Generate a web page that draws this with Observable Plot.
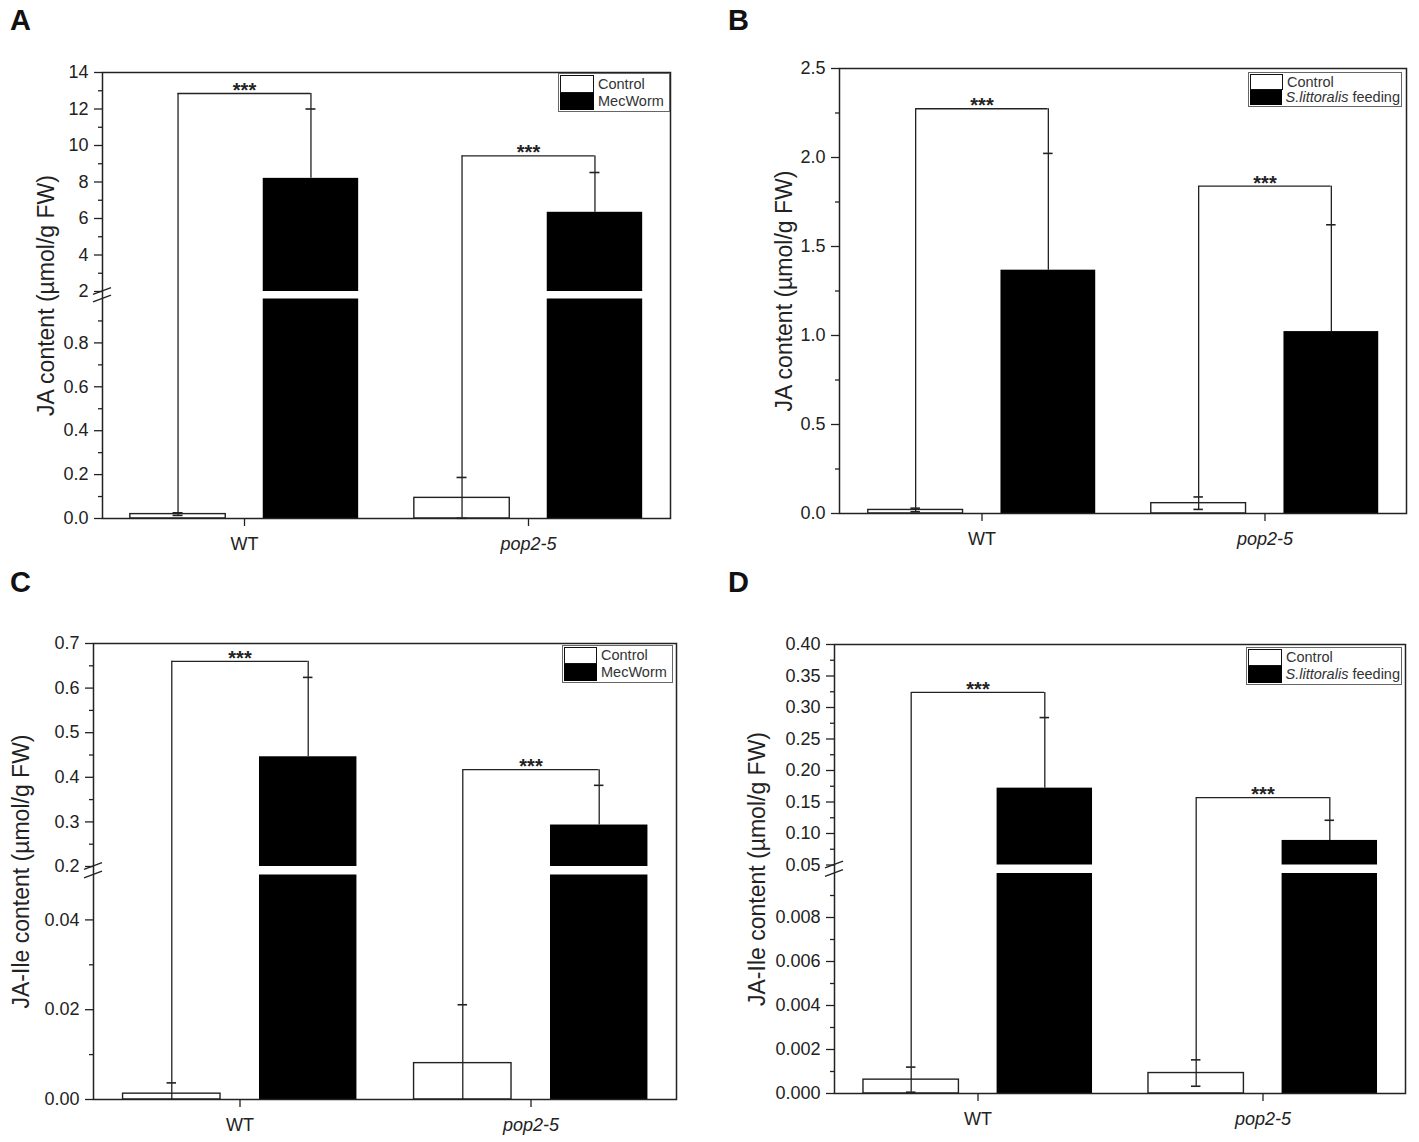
<!DOCTYPE html>
<html><head><meta charset="utf-8">
<script src="https://cdn.jsdelivr.net/npm/d3@7"></script>
<script src="https://cdn.jsdelivr.net/npm/@observablehq/plot@0.6"></script>
<style>
html,body{margin:0;padding:0;background:#fff;}
#page{position:relative;width:1419px;height:1142px;font-family:"Liberation Sans",Arial,sans-serif;color:#222;overflow:hidden}
#page svg{position:absolute}
.letter{position:absolute;font-weight:bold;font-size:29px;line-height:1;z-index:5;color:#111}
.legend{position:absolute;box-sizing:border-box;border:1px solid #666;background:#fff;display:flex;flex-direction:column;padding:1px 1px 1px 1px;z-index:5}
.legend .row{flex:1;display:flex;align-items:stretch;font-size:14.5px;line-height:1;color:#333}
.legend .sw{box-sizing:border-box;margin:0 4px 0 0}
.legend .lab{display:flex;align-items:center;white-space:pre}
</style></head>
<body><div id="page"></div>
<script>
// ---------- data ----------
const groups = ["WT", "pop2-5"];

// Panel A: JA content, MecWorm
const aControlMean = [0.02, 0.094];
const aControlSD = [0.006, 0.093];
const aTreatMean = [8.2, 6.34];
const aTreatSD = [3.8, 2.18];
const aBracket = [12.85, 9.43];
const aBreak = [1, 2];
const aMajor = [0, 0.2, 0.4, 0.6, 0.8, 2, 4, 6, 8, 10, 12, 14];
const aMinor = [0.1, 0.3, 0.5, 0.7, 0.9, 3, 5, 7, 9, 11, 13];

// Panel B: JA content, S. littoralis feeding
const bControlMean = [0.02, 0.058];
const bControlSD = [0.01, 0.035];
const bTreatMean = [1.367, 1.022];
const bTreatSD = [0.656, 0.6];
const bBracket = [2.274, 1.839];
const bMajor = [0, 0.5, 1.0, 1.5, 2.0, 2.5];
const bMinor = [0.25, 0.75, 1.25, 1.75, 2.25];

// Panel C: JA-Ile content, MecWorm
const cControlMean = [0.0013, 0.0081];
const cControlSD = [0.0024, 0.013];
const cTreatMean = [0.446, 0.293];
const cTreatSD = [0.178, 0.089];
const cBracket = [0.66, 0.417];
const cBreak = [0.05, 0.2];
const cMajor = [0, 0.02, 0.04, 0.2, 0.3, 0.4, 0.5, 0.6, 0.7];
const cMinor = [0.01, 0.03, 0.25, 0.35, 0.45, 0.55, 0.65];

// Panel D: JA-Ile content, S. littoralis feeding
const dControlMean = [0.00063, 0.00093];
const dControlSD = [0.00057, 0.0006];
const dTreatMean = [0.172, 0.089];
const dTreatSD = [0.112, 0.032];
const dBracket = [0.324, 0.157];
const dBreak = [0.01, 0.05];
const dMajor = [0, 0.002, 0.004, 0.006, 0.008, 0.05, 0.10, 0.15, 0.20, 0.25, 0.30, 0.35, 0.40];
const dMinor = [0.001, 0.003, 0.005, 0.007, 0.009, 0.075, 0.125, 0.175, 0.225, 0.275, 0.325, 0.375];

const legendMec = ["Control", "MecWorm"];
const legendFeed = ["Control", "S.littoralis| feeding"];
const titleJA = "JA content (µmol/g FW)";
const titleJAIle = "JA-Ile content (µmol/g FW)";

// ---------- panels ----------
const panels = [
  {letter: "A", left: 0, top: 0, width: 710, height: 570, ml: 102, mr: 40, mt: 72, mb: 52,
   cm: aControlMean, cs: aControlSD, tm: aTreatMean, ts: aTreatSD, br: aBracket,
   brk: aBreak, yDomain: [0, aBreak[0], aBreak[1], 14], yRange: [518, 298.5, 291, 72],
   major: aMajor, minor: aMinor, fmt: d => d >= aBreak[1] ? d.toFixed(0) : d.toFixed(1),
   title: titleJA, titleDx: -56, letterPos: [10, 5.5],
   legend: {left: 558, top: 73, width: 112, height: 39, sw: 34, items: legendMec}},
  {letter: "B", left: 710, top: 0, width: 709, height: 570, ml: 129, mr: 13, mt: 68, mb: 57,
   cm: bControlMean, cs: bControlSD, tm: bTreatMean, ts: bTreatSD, br: bBracket,
   brk: null, yDomain: [0, 2.5], yRange: [513, 68],
   major: bMajor, minor: bMinor, fmt: d => d.toFixed(1),
   title: titleJA, titleDx: -55, letterPos: [728, 5.5],
   legend: {left: 1248, top: 72, width: 154, height: 35, sw: 33, items: legendFeed}},
  {letter: "C", left: 0, top: 570, width: 710, height: 572, ml: 93, mr: 34, mt: 73, mb: 43,
   cm: cControlMean, cs: cControlSD, tm: cTreatMean, ts: cTreatSD, br: cBracket,
   brk: cBreak, yDomain: [0, cBreak[0], cBreak[1], 0.7], yRange: [529, 304.5, 296, 73],
   major: cMajor, minor: cMinor, fmt: d => d >= cBreak[1] ? d.toFixed(1) : d.toFixed(2),
   title: titleJAIle, titleDx: -72, letterPos: [10, 567.5],
   legend: {left: 562, top: 645, width: 111, height: 38, sw: 33, items: legendMec}},
  {letter: "D", left: 710, top: 570, width: 709, height: 572, ml: 124, mr: 14, mt: 74, mb: 49,
   cm: dControlMean, cs: dControlSD, tm: dTreatMean, ts: dTreatSD, br: dBracket,
   brk: dBreak, yDomain: [0, dBreak[0], dBreak[1], 0.40], yRange: [523, 303, 294.5, 74],
   major: dMajor, minor: dMinor, fmt: d => d >= dBreak[1] ? d.toFixed(2) : d.toFixed(3),
   title: titleJAIle, titleDx: -77, letterPos: [728, 567.5],
   legend: {left: 1246, top: 647, width: 156, height: 38, sw: 34, items: legendFeed}}
];

const page = document.getElementById("page");
const INK = "#222";

function breakMarker(lowTop, highBottom) {
  return (index, scales, values, dimensions) => {
    const y = scales.y;
    const x0 = dimensions.marginLeft;
    const g = d3.create("svg:g").attr("stroke", INK).attr("stroke-width", 1.4).attr("fill", "none");
    for (const v of [highBottom, lowTop]) {
      const yy = y(v);
      g.append("line").attr("x1", x0 - 9).attr("x2", x0 + 9).attr("y1", yy + 3.3).attr("y2", yy - 3.3);
    }
    return g.node();
  };
}

for (const p of panels) {
  const rows = groups.map((g, i) => ({group: g, cMean: p.cm[i], cSD: p.cs[i], tMean: p.tm[i], tSD: p.ts[i], bracket: p.br[i]}));
  const step = (p.width - p.ml - p.mr) / 2;
  const offC = -0.234 * step, offT = 0.234 * step, bw = 0.336 * step;
  const half = step / 2;
  const barC = {insetLeft: half + offC - bw / 2, insetRight: half - offC - bw / 2};
  const barT = {insetLeft: half + offT - bw / 2, insetRight: half - offT - bw / 2};
  const capW = 10;
  const capC = {insetLeft: half + offC - capW / 2, insetRight: half - offC - capW / 2};
  const capT = {insetLeft: half + offT - capW / 2, insetRight: half - offT - capW / 2};
  const line = {stroke: INK, strokeWidth: 1.3};

  const marks = [];
  // control bars
  marks.push(Plot.barY(rows, {x: "group", y1: 0, y2: "cMean", fill: "#fff", stroke: INK, strokeWidth: 1.4, ...barC}));
  // treatment bars (split at the axis break)
  if (p.brk) {
    const [lowTop, highBottom] = p.brk;
    marks.push(Plot.barY(rows, {x: "group", y1: 0, y2: d => Math.min(d.tMean, lowTop), fill: "#000", ...barT}));
    marks.push(Plot.barY(rows.filter(d => d.tMean > highBottom), {x: "group", y1: highBottom, y2: "tMean", fill: "#000", ...barT}));
  } else {
    marks.push(Plot.barY(rows, {x: "group", y1: 0, y2: "tMean", fill: "#000", ...barT}));
  }
  // error bars
  marks.push(Plot.ruleX(rows, {x: "group", y1: d => Math.max(0, d.cMean - d.cSD), y2: d => d.cMean + d.cSD, dx: offC, ...line}));
  marks.push(Plot.tickY(rows, {x: "group", y: d => d.cMean + d.cSD, ...capC, ...line, strokeWidth: 1.6}));
  marks.push(Plot.tickY(rows.filter(d => d.cMean - d.cSD > 0), {x: "group", y: d => d.cMean - d.cSD, ...capC, ...line, strokeWidth: 1.6}));
  marks.push(Plot.ruleX(rows, {x: "group", y1: "tMean", y2: d => d.tMean + d.tSD, dx: offT, ...line}));
  marks.push(Plot.tickY(rows, {x: "group", y: d => d.tMean + d.tSD, ...capT, ...line, strokeWidth: 1.6}));
  // significance brackets
  marks.push(Plot.ruleX(rows, {x: "group", y1: d => d.cMean + d.cSD, y2: "bracket", dx: offC, ...line}));
  marks.push(Plot.ruleX(rows, {x: "group", y1: d => d.tMean + d.tSD, y2: "bracket", dx: offT, ...line}));
  marks.push(Plot.tickY(rows, {x: "group", y: "bracket", insetLeft: half + offC, insetRight: half - offT, ...line}));
  marks.push(Plot.text(rows, {x: "group", y: "bracket", text: () => "***", dx: (offC + offT) / 2, dy: -3, fontSize: 20, fontWeight: "bold", fill: INK}));
  // axes
  marks.push(Plot.axisY({ticks: p.major, tickSize: 8, tickPadding: 6, tickFormat: p.fmt, label: null, strokeWidth: 1.3, fontSize: 18}));
  marks.push(Plot.axisY({ticks: p.minor, tickSize: 4, tickFormat: () => "", label: null, strokeWidth: 1.3}));
  marks.push(Plot.axisX({tickSize: 8, tickFormat: () => "", label: null, strokeWidth: 1.3}));
  marks.push(Plot.text(groups, {x: d => d, filter: d => d === "WT", frameAnchor: "bottom", lineAnchor: "top", dy: 19, fontSize: 18, fill: INK}));
  marks.push(Plot.text(groups, {x: d => d, filter: d => d !== "WT", frameAnchor: "bottom", lineAnchor: "top", dy: 19, fontSize: 18, fontStyle: "italic", fill: INK}));
  marks.push(Plot.text([p.title], {text: d => d, frameAnchor: "left", textAnchor: "middle", rotate: -90, dx: p.titleDx, fontSize: 23, fill: INK}));
  marks.push(Plot.frame({stroke: INK, strokeWidth: 1.5}));
  if (p.brk) marks.push(breakMarker(p.brk[0], p.brk[1]));

  const svg = Plot.plot({
    width: p.width, height: p.height,
    marginLeft: p.ml, marginRight: p.mr, marginTop: p.mt, marginBottom: p.mb,
    x: {type: "band", domain: groups, padding: 0},
    y: {type: "linear", domain: p.yDomain, range: p.yRange},
    style: {fontFamily: "'Liberation Sans', Arial, sans-serif", fontSize: "18px", color: INK, background: "transparent", overflow: "visible"},
    marks
  });
  svg.style.left = p.left + "px";
  svg.style.top = p.top + "px";
  page.appendChild(svg);

  // panel letter
  const L = document.createElement("div");
  L.className = "letter";
  L.textContent = p.letter;
  L.style.left = p.letterPos[0] + "px";
  L.style.top = p.letterPos[1] + "px";
  page.appendChild(L);

  // legend
  const lg = document.createElement("div");
  lg.className = "legend";
  Object.assign(lg.style, {left: p.legend.left + "px", top: p.legend.top + "px", width: p.legend.width + "px", height: p.legend.height + "px"});
  p.legend.items.forEach((label, i) => {
    const row = document.createElement("div");
    row.className = "row";
    const sw = document.createElement("div");
    sw.className = "sw";
    sw.style.width = p.legend.sw + "px";
    if (i === 0) { sw.style.background = "#fff"; sw.style.border = "1.5px solid #111"; }
    else { sw.style.background = "#000"; }
    row.appendChild(sw);
    const lab = document.createElement("div");
    lab.className = "lab";
    if (label.includes("|")) {
      const [it, rest] = label.split("|");
      const em = document.createElement("i");
      em.textContent = it;
      const tail = document.createElement("span");
      tail.textContent = rest.replace(/^ /, "\u00a0");
      lab.appendChild(em);
      lab.appendChild(tail);
    } else lab.textContent = label;
    row.appendChild(lab);
    lg.appendChild(row);
  });
  page.appendChild(lg);
}
</script></body></html>
